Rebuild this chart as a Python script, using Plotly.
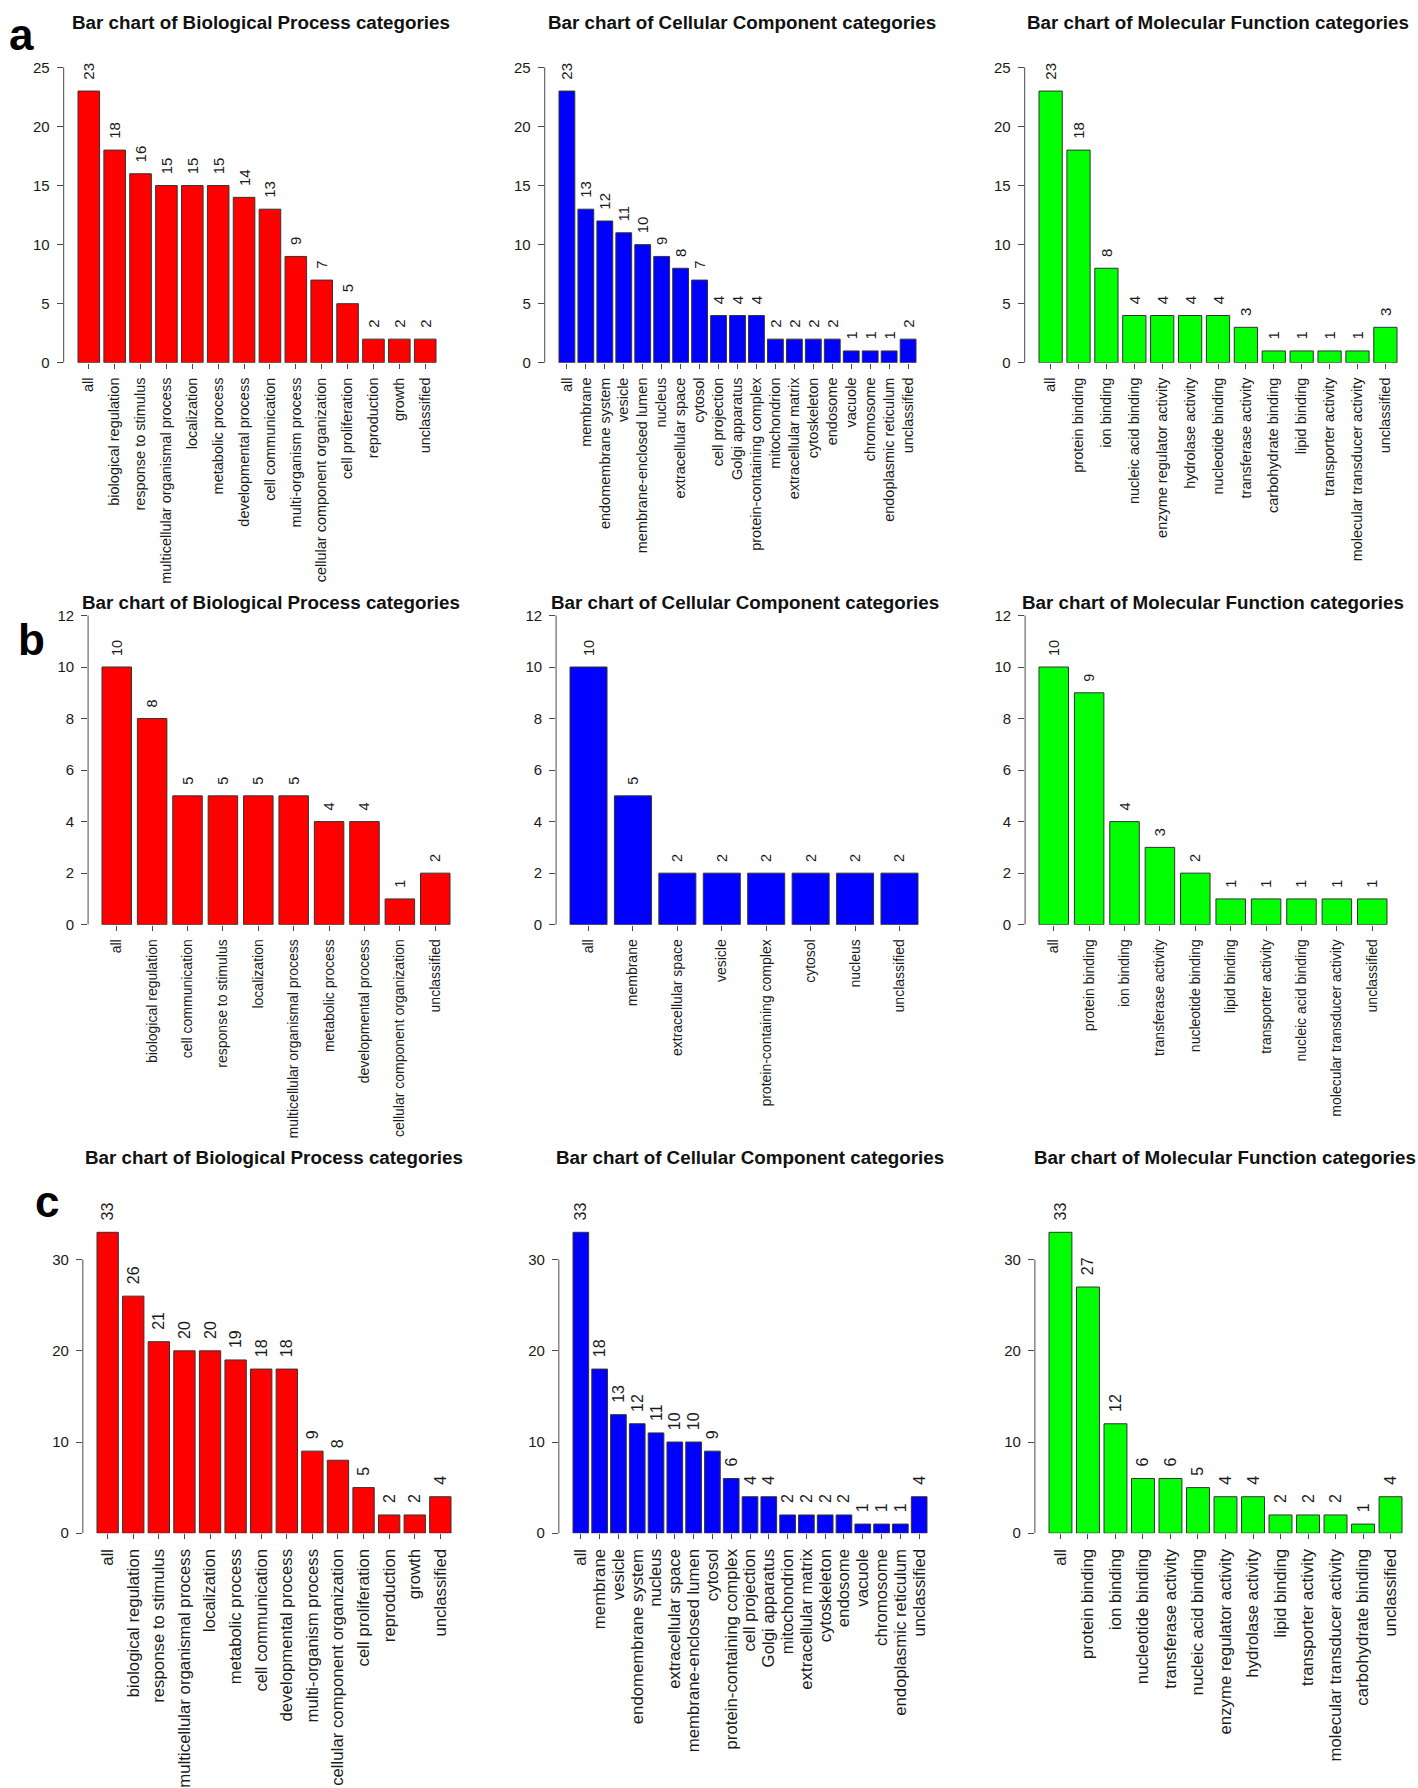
import plotly.graph_objects as go

# ---------------- data ----------------
bp_a_cats = ["all", "biological regulation", "response to stimulus", "multicellular organismal process",
             "localization", "metabolic process", "developmental process", "cell communication",
             "multi-organism process", "cellular component organization", "cell proliferation",
             "reproduction", "growth", "unclassified"]
bp_a_vals = [23, 18, 16, 15, 15, 15, 14, 13, 9, 7, 5, 2, 2, 2]

cc_a_cats = ["all", "membrane", "endomembrane system", "vesicle", "membrane-enclosed lumen", "nucleus",
             "extracellular space", "cytosol", "cell projection", "Golgi apparatus",
             "protein-containing complex", "mitochondrion", "extracellular matrix", "cytoskeleton",
             "endosome", "vacuole", "chromosome", "endoplasmic reticulum", "unclassified"]
cc_a_vals = [23, 13, 12, 11, 10, 9, 8, 7, 4, 4, 4, 2, 2, 2, 2, 1, 1, 1, 2]

mf_a_cats = ["all", "protein binding", "ion binding", "nucleic acid binding", "enzyme regulator activity",
             "hydrolase activity", "nucleotide binding", "transferase activity", "carbohydrate binding",
             "lipid binding", "transporter activity", "molecular transducer activity", "unclassified"]
mf_a_vals = [23, 18, 8, 4, 4, 4, 4, 3, 1, 1, 1, 1, 3]

bp_b_cats = ["all", "biological regulation", "cell communication", "response to stimulus", "localization",
             "multicellular organismal process", "metabolic process", "developmental process",
             "cellular component organization", "unclassified"]
bp_b_vals = [10, 8, 5, 5, 5, 5, 4, 4, 1, 2]

cc_b_cats = ["all", "membrane", "extracellular space", "vesicle", "protein-containing complex",
             "cytosol", "nucleus", "unclassified"]
cc_b_vals = [10, 5, 2, 2, 2, 2, 2, 2]

mf_b_cats = ["all", "protein binding", "ion binding", "transferase activity", "nucleotide binding",
             "lipid binding", "transporter activity", "nucleic acid binding",
             "molecular transducer activity", "unclassified"]
mf_b_vals = [10, 9, 4, 3, 2, 1, 1, 1, 1, 1]

bp_c_cats = ["all", "biological regulation", "response to stimulus", "multicellular organismal process",
             "localization", "metabolic process", "cell communication", "developmental process",
             "multi-organism process", "cellular component organization", "cell proliferation",
             "reproduction", "growth", "unclassified"]
bp_c_vals = [33, 26, 21, 20, 20, 19, 18, 18, 9, 8, 5, 2, 2, 4]

cc_c_cats = ["all", "membrane", "vesicle", "endomembrane system", "nucleus", "extracellular space",
             "membrane-enclosed lumen", "cytosol", "protein-containing complex", "cell projection",
             "Golgi apparatus", "mitochondrion", "extracellular matrix", "cytoskeleton", "endosome",
             "vacuole", "chromosome", "endoplasmic reticulum", "unclassified"]
cc_c_vals = [33, 18, 13, 12, 11, 10, 10, 9, 6, 4, 4, 2, 2, 2, 2, 1, 1, 1, 4]

mf_c_cats = ["all", "protein binding", "ion binding", "nucleotide binding", "transferase activity",
             "nucleic acid binding", "enzyme regulator activity", "hydrolase activity", "lipid binding",
             "transporter activity", "molecular transducer activity", "carbohydrate binding",
             "unclassified"]
mf_c_vals = [33, 27, 12, 6, 6, 5, 4, 4, 2, 2, 2, 1, 4]

titles = ["Bar chart of Biological Process categories",
          "Bar chart of Cellular Component categories",
          "Bar chart of Molecular Function categories"]
panel_letters = ["a", "b", "c"]

row_ticks = [[0, 5, 10, 15, 20, 25], [0, 2, 4, 6, 8, 10, 12], [0, 10, 20, 30]]

RED, BLUE, GREEN = "#FF0000", "#0000FF", "#00FF00"

# ---------------- layout geometry (pixels) ----------------
W, H = 1418, 1788
rows_geom = [
    dict(y0=362, ytop=64, rtop=27.0, fcat=14.5, fval=15, ftick=15),
    dict(y0=929, ytop=617, rtop=12.2, fcat=14, fval=14.5, ftick=15),
    dict(y0=1543, ytop=1267, rtop=36.0, fcat=16.8, fval=16, ftick=15),
]
bar_spans = [
    [(78, 436), (559, 916), (1039, 1397)],
    [(102, 450), (570, 918), (1039, 1387)],
    [(97, 451), (573, 927), (1049, 1402)],
]
title_pos = [
    [(261, 19), (742, 19), (1218, 19)],
    [(271, 604), (745, 604), (1213, 604)],
    [(274, 1164), (750, 1164), (1225, 1164)],
]
letter_pos = [(21, 31), (31, 641), (47, 1208)]

panels = [
    [(bp_a_cats, bp_a_vals, RED), (cc_a_cats, cc_a_vals, BLUE), (mf_a_cats, mf_a_vals, GREEN)],
    [(bp_b_cats, bp_b_vals, RED), (cc_b_cats, cc_b_vals, BLUE), (mf_b_cats, mf_b_vals, GREEN)],
    [(bp_c_cats, bp_c_vals, RED), (cc_c_cats, cc_c_vals, BLUE), (mf_c_cats, mf_c_vals, GREEN)],
]

FONT = "Liberation Sans, Arial, Helvetica, sans-serif"
TXT = "#1a1a1a"
AX = "#4a4a4a"
BARW = 1 / 1.2

fig = go.Figure()
layout = dict(width=W, height=H, autosize=False, margin=dict(l=0, r=0, t=0, b=0),
              plot_bgcolor="white", paper_bgcolor="white", showlegend=False,
              font=dict(family=FONT, color=TXT), bargap=1 - BARW)
annotations = []
shapes = []

idx = 0
for r in range(3):
    g = rows_geom[r]
    unit = (g["y0"] - g["ytop"]) / row_ticks[r][-1]
    top_px = g["y0"] - g["rtop"] * unit
    ydom = [1 - g["y0"] / H, 1 - top_px / H]
    for c in range(3):
        idx += 1
        cats, vals, col = panels[r][c]
        n = len(cats)
        L, R = bar_spans[r][c]
        ext = 0.04 * (R - L)
        xdom = [(L - ext) / W, (R + ext) / W]
        S = n - 1 + BARW
        xr = [-BARW / 2 - 0.04 * S, n - 1 + BARW / 2 + 0.04 * S]
        xname = "x" if idx == 1 else f"x{idx}"
        yname = "y" if idx == 1 else f"y{idx}"
        xkey = "xaxis" if idx == 1 else f"xaxis{idx}"
        ykey = "yaxis" if idx == 1 else f"yaxis{idx}"

        fig.add_trace(go.Bar(
            x=cats, y=vals, xaxis=xname, yaxis=yname,
            marker=dict(color=col, line=dict(color="#333333", width=1)),
            text=["\u00a0\u00a0" + str(v) for v in vals],
            textposition="outside", textangle=-90, constraintext="none",
            textfont=dict(size=g["fval"], color=TXT, family=FONT),
            cliponaxis=False, hoverinfo="x+y",
        ))
        layout[xkey] = dict(domain=xdom, anchor=yname, range=xr, type="category",
                            categoryorder="array", categoryarray=cats,
                            tickmode="array", tickvals=cats, ticktext=cats,
                            showgrid=False, zeroline=False, showline=False,
                            ticks="outside", ticklen=5, tickcolor=AX, tickwidth=1,
                            tickangle=-90, tickfont=dict(size=g["fcat"], color=TXT, family=FONT),
                            ticklabelstandoff=3, fixedrange=True)
        layout[ykey] = dict(domain=ydom, anchor=xname, range=[0, g["rtop"]],
                            tickmode="array", tickvals=row_ticks[r],
                            ticktext=[str(t) for t in row_ticks[r]],
                            showgrid=False, zeroline=False, showline=False,
                            ticks="outside", ticklen=6, tickcolor=AX, tickwidth=1,
                            tickfont=dict(size=g["ftick"], color=TXT, family=FONT),
                            ticklabelstandoff=4, fixedrange=True)
        shapes.append(dict(type="line", xref=f"{xname} domain", yref=yname,
                           x0=0, x1=0, y0=row_ticks[r][0], y1=row_ticks[r][-1],
                           line=dict(color=AX, width=1)))
        tx, ty = title_pos[r][c]
        annotations.append(dict(text="<b>" + titles[c] + "</b>", xref="paper", yref="paper",
                                x=tx / W, y=1 - ty / H, xanchor="center", yanchor="middle",
                                showarrow=False, font=dict(size=18.8, color="#111111", family=FONT)))
    lx, ly = letter_pos[r]
    annotations.append(dict(text="<b>" + panel_letters[r] + "</b>", xref="paper", yref="paper",
                            x=lx / W, y=1 - ly / H, xanchor="center", yanchor="middle",
                            showarrow=False, font=dict(size=44, color="#000000", family=FONT)))

layout["annotations"] = annotations
layout["shapes"] = shapes
fig.update_layout(**layout)

fig.write_html("out.html", config={"displayModeBar": False},
               post_script="document.body.style.margin='0';document.body.style.overflow='hidden';")
